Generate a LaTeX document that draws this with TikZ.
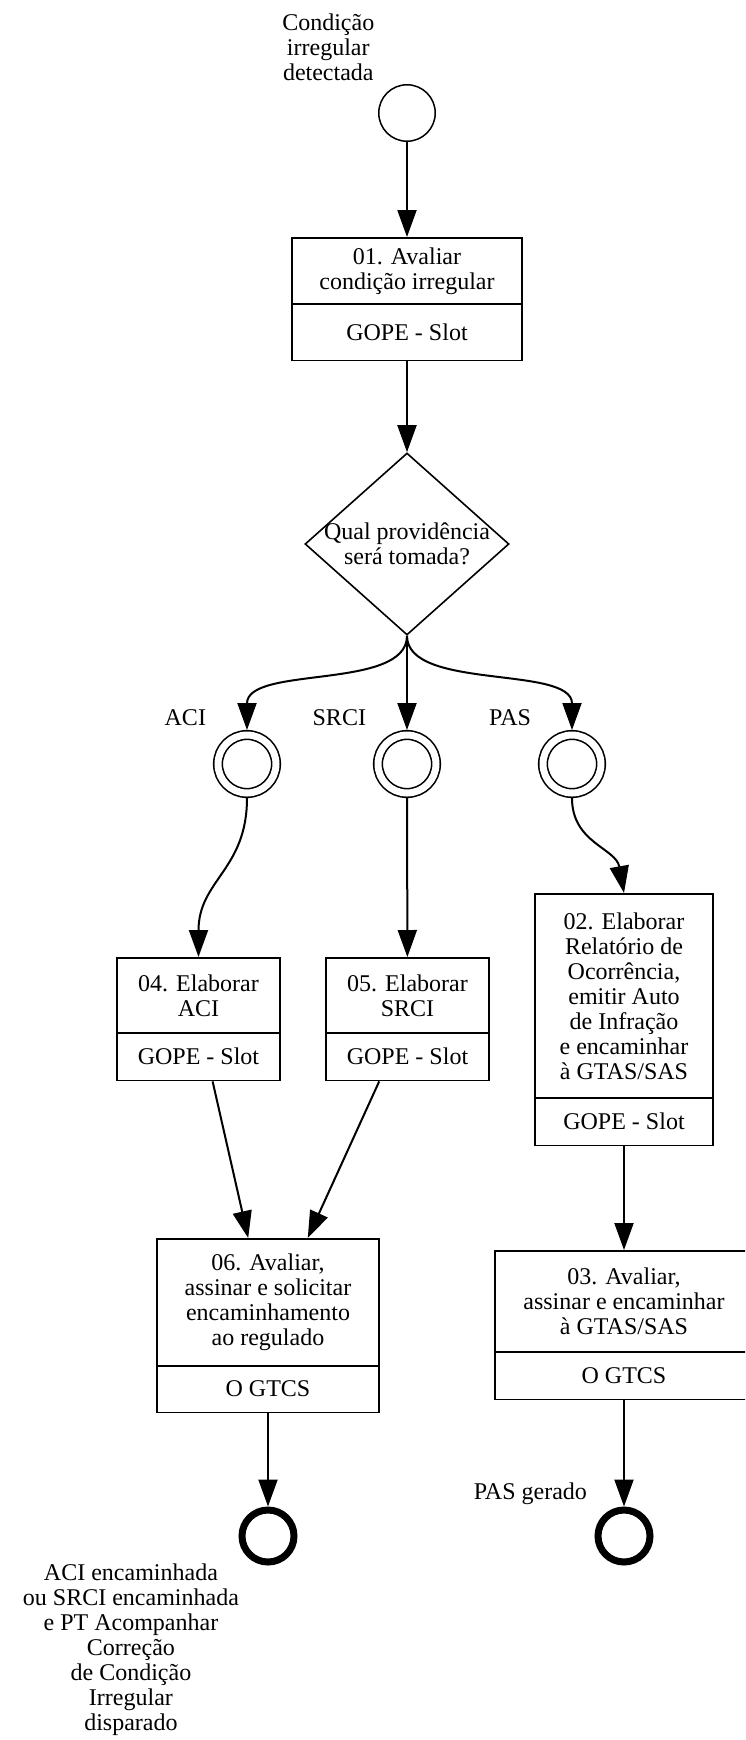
\documentclass[tikz,border=0pt]{standalone}
\usepackage{fontspec}
\setmainfont{Liberation Serif}
\usetikzlibrary{arrows.meta,shapes.geometric,shapes.multipart}

\newcommand{\caixa}[3]{\parbox[c][#2][c]{#1}{\centering #3}}

\tikzset{
    tarefa/.style={draw, line width=1.8pt, rectangle split, rectangle split parts=2, inner sep=0pt, anchor=north},
    inicio/.style={draw, circle, line width=1.5pt, minimum size=56.5pt, inner sep=0pt},
    intermed/.style={draw, circle, double, double distance=7pt, line width=1.6pt, minimum size=58pt, inner sep=0pt, outer sep=5pt},
    fim/.style={draw, circle, line width=7pt, minimum size=52pt, inner sep=0pt},
    decisao/.style={draw, diamond, line width=1.6pt, minimum width=204pt, minimum height=182pt, inner sep=0pt},
    seta/.style={->, line width=2pt},
    rotulo/.style={anchor=east, inner sep=0pt, xshift=-40pt, yshift=12pt}
}

\begin{document}
\begin{tikzpicture}[x=1pt, y=-1pt, >={Triangle[length=27pt,width=19pt]}, font=\fontsize{24}{25}\selectfont]

    \clip (0,0) rectangle (745,1740);

    \node[inicio, label={[align=center, inner sep=0pt, xshift=-12pt, yshift=12pt]above left:Condição\\irregular\\detectada}] (ini) at (407,113) {};

    \node[tarefa] (b01) at (407,237) {\caixa{230pt}{64pt}{01. Avaliar\\condição irregular}\nodepart{two}\caixa{230pt}{55pt}{GOPE - Slot}};

    \node[decisao, label={[align=center]center:Qual providência\\será tomada?}] (d) at (407,544) {};

    \node[intermed] (aci) at (247,764) {};
    \node[intermed] (srci) at (407,764) {};
    \node[intermed] (pas) at (572,764) {};

    \node[tarefa] (b04) at (198.5,957) {\caixa{163pt}{73pt}{04. Elaborar\\ACI}\nodepart{two}\caixa{163pt}{46pt}{GOPE - Slot}};
    \node[tarefa] (b05) at (407.5,957) {\caixa{163pt}{73pt}{05. Elaborar\\SRCI}\nodepart{two}\caixa{163pt}{46pt}{GOPE - Slot}};
    \node[tarefa] (b02) at (624,893) {\caixa{178pt}{202pt}{02. Elaborar\\Relatório de\\Ocorrência,\\emitir Auto\\de Infração\\e encaminhar\\à GTAS/SAS}\nodepart{two}\caixa{178pt}{46pt}{GOPE - Slot}};

    \node[tarefa] (b06) at (268,1238) {\caixa{222pt}{125pt}{06. Avaliar,\\assinar e solicitar\\encaminhamento\\ao regulado}\nodepart{two}\caixa{222pt}{45pt}{O GTCS}};
    \node[tarefa] (b03) at (624,1250) {\caixa{258pt}{99pt}{03. Avaliar,\\assinar e encaminhar\\à GTAS/SAS}\nodepart{two}\caixa{258pt}{46pt}{O GTCS}};

    \node[fim, label={[align=center, inner sep=0pt, xshift=-8pt, yshift=-7pt]below left:ACI encaminhada\\ou SRCI encaminhada\\e PT Acompanhar\\Correção\\de Condição\\Irregular\\disparado}] (fim1) at (268,1536) {};
    \node[fim, label={[inner sep=0pt, xshift=-16pt, yshift=10pt]above left:PAS gerado}] (fim2) at (624,1536) {};

    \draw[seta] (ini) -- (b01);
    \draw[seta] (b01) -- (d);
    \draw[seta] (d.south) .. controls +(0,55) and +(0,-65) .. (aci.north) node[rotulo] {ACI};
    \draw[seta] (d.south) -- (srci.north) node[rotulo] {SRCI};
    \draw[seta] (d.south) .. controls +(0,55) and +(0,-65) .. (pas.north) node[rotulo] {PAS};
    \draw[seta] (aci.south) .. controls +(0,72) and +(0,-77) .. (b04.north);
    \draw[seta] (srci) -- (b05);
    \draw[seta] (pas.south) .. controls +(0,45) and +(-8,-45) .. (b02.north);
    \draw[seta] (b04) -- (b06);
    \draw[seta] (b05) -- (b06);
    \draw[seta] (b02) -- (b03);
    \draw[seta] (b06) -- (fim1);
    \draw[seta] (b03.south) -- (fim2);

\end{tikzpicture}
\end{document}
